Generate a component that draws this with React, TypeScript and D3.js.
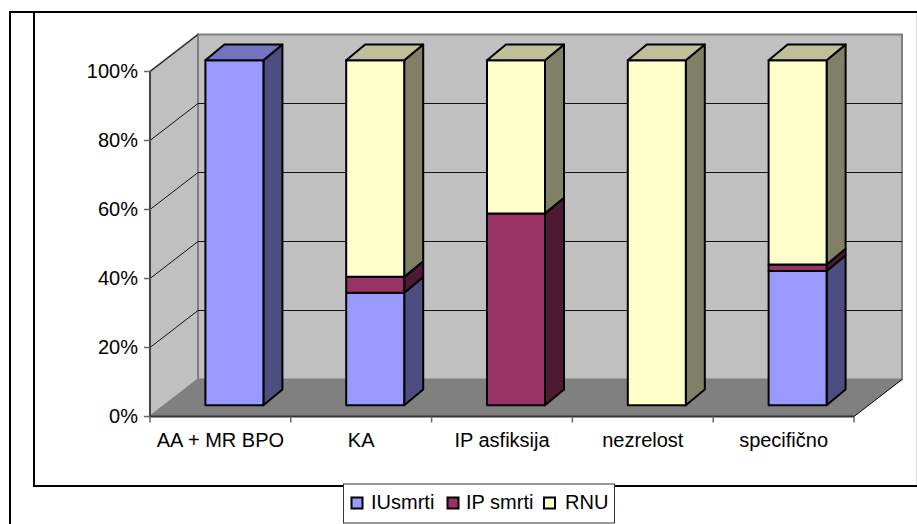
import React from "react";
import * as d3 from "d3";

const categories = ["AA + MR BPO", "KA", "IP asfiksija", "nezrelost", "specifično"];
const seriesNames = ["IUsmrti", "IP smrti", "RNU"];
const iuSmrti = [100, 32.6, 0, 0, 38.9];
const ipSmrti = [0, 4.6, 55.6, 0, 1.9];
const rnu = [0, 62.8, 44.4, 100, 59.2];
const yTicks = [0, 20, 40, 60, 80, 100];
const frontColors = ["#9999ff", "#993366", "#ffffcc"];
const sideColors = ["#4d4d80", "#4d1a33", "#808066"];
const topColors = ["#7373bf", "#73264d", "#bfbf99"];

const W = 917;
const H = 524;
const FONT = "'Liberation Sans', Arial, sans-serif";
const FS = 20;
const x0 = 150;
const x1 = 854;
const yBase = 416.5;
const yFull = 71.5;
const depthX = 48;
const depthY = -37;
const barDx = 19;
const barDy = -15.7;
const barFrontX = 14;
const barFrontY = -11.3;
const barWidth = 58;

const xScale = d3.scaleBand<string>().domain(categories).range([x0, x1]);
const yScale = d3.scaleLinear().domain([0, 100]).range([yBase, yFull]);
const pct = d3.format("d");

const rows = categories.map((c, i) => ({ c, a: iuSmrti[i], b: ipSmrti[i], d: rnu[i] }));
const stacked = d3.stack<any>().keys(["a", "b", "d"])(rows);
const poly = (pts: number[][]) => pts.map((p) => p.join(",")).join(" ");

export default function App() {
  const bw = xScale.bandwidth();
  const backX0 = x0 + depthX;
  const backX1 = x1 + depthX;
  return (
    <svg
      width={W}
      height={H}
      viewBox={`0 0 ${W} ${H}`}
      style={{ position: "absolute", left: 0, top: 0, background: "#fff" }}
      fontFamily={FONT}
    >
      {/* outer frame */}
      <line x1={10} y1={12} x2={917} y2={12} stroke="#000" strokeWidth={2} />
      <line x1={10} y1={11} x2={10} y2={524} stroke="#000" strokeWidth={2} />
      <line x1={34} y1={12} x2={34} y2={487} stroke="#000" strokeWidth={2} />
      <line x1={33} y1={486} x2={917} y2={486} stroke="#000" strokeWidth={2} />
      <line x1={916.5} y1={13} x2={916.5} y2={485} stroke="#ddd" strokeWidth={1} />

      {/* walls */}
      <polygon
        points={poly([[backX0, yFull + depthY], [backX1, yFull + depthY], [backX1, yBase + depthY], [backX0, yBase + depthY]])}
        fill="#c0c0c0"
        stroke="#808080"
        strokeWidth={2}
      />
      <polygon
        points={poly([[x0, yFull], [backX0, yFull + depthY], [backX0, yBase + depthY], [x0, yBase]])}
        fill="#c0c0c0"
        stroke="#808080"
        strokeWidth={2}
      />
      <polygon
        points={poly([[x0, yBase], [backX0, yBase + depthY], [backX1, yBase + depthY], [x1, yBase]])}
        fill="#808080"
      />
      <line x1={x1} y1={yBase} x2={backX1} y2={yBase + depthY} stroke="#000" strokeWidth={1} />

      {/* gridlines */}
      {yTicks.filter((t) => t > 0).map((t) => (
        <g key={t} stroke="#111" strokeWidth={1}>
          <line x1={x0} y1={yScale(t)} x2={backX0} y2={yScale(t) + depthY} />
          {t < 100 && <line x1={backX0} y1={yScale(t) + depthY} x2={backX1} y2={yScale(t) + depthY} />}
        </g>
      ))}

      {/* axes */}
      <line x1={x0} y1={yFull} x2={x0} y2={yBase} stroke="#444" strokeWidth={2} />
      <line x1={x0} y1={yBase} x2={x1} y2={yBase} stroke="#333" strokeWidth={2} />
      {yTicks.map((t) => (
        <g key={t}>
          <line x1={x0 - 6} y1={yScale(t)} x2={x0} y2={yScale(t)} stroke="#666" strokeWidth={1.5} />
          <text x={138} y={yScale(t) + 6.5} textAnchor="end" fontSize={FS} fill="#000">
            {pct(t)}%
          </text>
        </g>
      ))}
      {[...categories.map((c) => xScale(c) as number), x1].map((x, i) => (
        <line key={i} x1={x} y1={yBase} x2={x} y2={yBase + 6} stroke="#666" strokeWidth={1.5} />
      ))}
      {categories.map((c) => (
        <text key={c} x={(xScale(c) as number) + bw / 2} y={447} textAnchor="middle" fontSize={FS} fill="#000">
          {c}
        </text>
      ))}

      {/* bars */}
      {categories.map((c, i) => {
        const left = (xScale(c) as number) + bw / 2 - barWidth / 2 + barFrontX;
        const right = left + barWidth;
        const topIdx = d3.max(stacked.map((s, k) => (s[i][1] - s[i][0] > 0 ? k : -1))) as number;
        return (
          <g key={c} stroke="#000" strokeWidth={2} strokeLinejoin="round">
            {stacked.map((s, k) => {
              const lo = s[i][0];
              const hi = s[i][1];
              if (hi - lo <= 0) return null;
              const yb = yScale(lo) + barFrontY;
              const yt = yScale(hi) + barFrontY;
              return (
                <g key={k}>
                  <polygon
                    points={poly([[right, yb], [right + barDx, yb + barDy], [right + barDx, yt + barDy], [right, yt]])}
                    fill={sideColors[k]}
                  />
                  <rect x={left} y={yt} width={barWidth} height={yb - yt} fill={frontColors[k]} />
                  {k === topIdx && (
                    <polygon
                      points={poly([[left, yt], [left + barDx, yt + barDy], [right + barDx, yt + barDy], [right, yt]])}
                      fill={topColors[k]}
                    />
                  )}
                </g>
              );
            })}
          </g>
        );
      })}

      {/* legend */}
      <rect x={343.5} y={484} width={271} height={39} fill="#fff" stroke="#333" strokeWidth={1} />
      {seriesNames.map((n, i) => {
        const sx = [351.5, 447.5, 544][i];
        const tx = [371, 466, 565][i];
        return (
          <g key={n}>
            <rect x={sx} y={497.5} width={11} height={11} fill={frontColors[i]} stroke="#000" strokeWidth={2} />
            <text x={tx} y={509} fontSize={FS} fill="#000">
              {n}
            </text>
          </g>
        );
      })}
    </svg>
  );
}
